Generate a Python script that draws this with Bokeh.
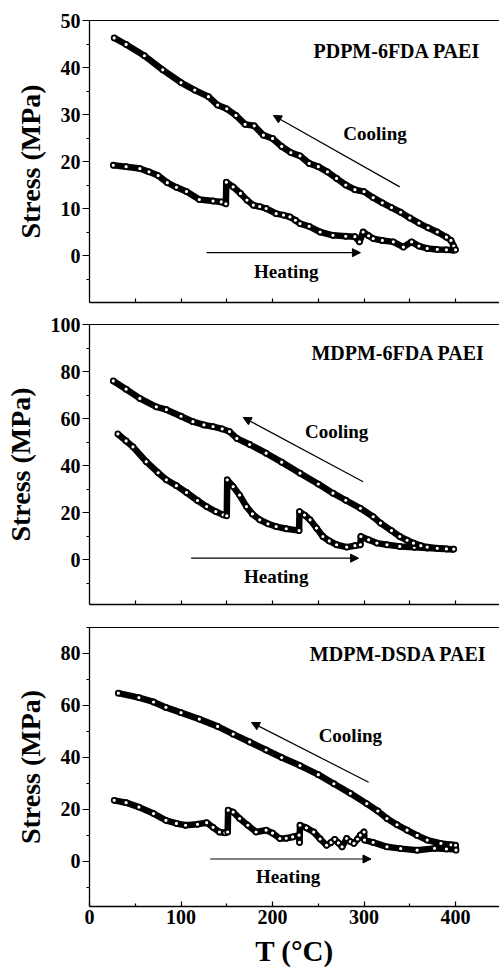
from bokeh.plotting import figure
from bokeh.layouts import column
from bokeh.models import FixedTicker, Range1d, LinearAxis, Label, Arrow, NormalHead
from bokeh.embed import file_html
from bokeh.resources import INLINE

# ---------------- data ----------------
x_ticks = [0, 100, 200, 300, 400]
x_minor = [50, 150, 250, 350]
x_all = [50, 100, 150, 200, 250, 300, 350, 400]

# Panel 1: PDPM-6FDA PAEI
p1_heat_T = [26, 40, 55, 65, 75, 85, 95, 106, 120, 135, 144, 149, 149.5, 157, 165, 172, 179, 186, 193, 204,
             212, 219, 225, 230, 240, 252, 266, 280, 290, 295, 299, 305, 310, 320, 332, 343, 352, 360, 369,
             380, 390, 398]
p1_heat_S = [19.2, 18.9, 18.5, 17.8, 17.0, 15.5, 14.5, 13.6, 11.9, 11.6, 11.4, 11.0, 15.6, 14.6, 13.2, 11.8,
             10.7, 10.4, 10.0, 8.9, 8.6, 8.2, 7.5, 6.8, 6.2, 5.0, 4.3, 4.1, 4.0, 2.9, 5.0, 4.2, 3.6, 3.2, 2.9,
             1.8, 2.9, 2.0, 1.5, 1.3, 1.2, 1.1]
p1_cool_T = [27, 40, 60, 80, 100, 115, 130, 140, 150, 160, 170, 180, 190, 200, 210, 220, 230, 240, 250, 260,
             270, 280, 290, 300, 310, 320, 330, 340, 350, 360, 370, 380, 390, 395, 398, 400]
p1_cool_S = [46.3, 44.9, 42.5, 39.5, 36.8, 35.2, 33.8, 32.0, 31.2, 29.8, 27.9, 27.6, 25.6, 24.9, 23.2, 21.9,
             21.2, 19.6, 18.9, 17.8, 16.4, 15.0, 14.0, 13.6, 12.3, 11.2, 10.2, 9.2, 8.0, 6.9, 5.9, 5.0, 3.9,
             3.2, 2.0, 1.2]

# Panel 2: MDPM-6FDA PAEI
p2_heat_T = [31, 40, 47.5, 62, 75, 84, 95, 106, 118, 128, 138, 146, 150, 150.5, 157, 164, 171.5, 178, 186,
             195, 204, 215, 229, 229.5, 235, 241, 248, 255, 262, 270, 281, 290, 296, 296.5, 305, 314, 325,
             339, 355, 369, 385, 398]
p2_heat_S = [53.5, 50.5, 48.0, 41.7, 37.0, 34.0, 31.5, 28.6, 25.2, 22.6, 20.5, 19.1, 18.7, 34.0, 31.1, 27.5,
             22.6, 19.5, 17.0, 15.3, 14.1, 13.2, 12.4, 20.5, 19.0, 17.0, 13.5, 9.9, 8.0, 6.4, 5.4, 6.0, 6.4,
             9.9, 8.5, 7.1, 6.4, 5.7, 5.3, 5.0, 4.7, 4.5]
p2_cool_T = [26, 40, 55, 73, 84, 100, 113, 125, 135, 145, 153, 161, 175, 193, 210, 230, 250, 266, 280, 296,
             310, 318, 330, 339, 347, 354, 362, 369, 380, 390, 398]
p2_cool_S = [76.0, 72.5, 68.6, 65.0, 63.8, 61.0, 58.7, 57.3, 56.6, 55.6, 54.5, 51.6, 49.0, 45.3, 41.5, 36.8,
             32.2, 28.3, 25.3, 21.9, 18.3, 15.6, 12.4, 9.9, 8.3, 7.1, 6.0, 5.4, 4.9, 4.6, 4.5]

# Panel 3: MDPM-DSDA PAEI
p3_heat_T = [27, 40, 54, 70, 83.5, 95, 105, 118, 128, 135, 142, 148, 151, 151.5, 157, 164, 173, 182, 193,
             200, 208, 215, 222, 229, 229.5, 230, 237, 245, 252, 259, 264, 268, 272, 276, 281, 285, 289, 293,
             296, 300, 300.5, 310, 325, 340, 358, 377, 390, 400]
p3_heat_S = [23.4, 22.5, 20.8, 18.3, 15.7, 14.5, 13.8, 14.2, 14.8, 13.0, 11.2, 10.9, 11.2, 19.6, 18.9, 16.4,
             13.8, 11.2, 11.9, 10.8, 8.7, 8.8, 9.3, 10.0, 7.2, 13.8, 12.8, 11.2, 8.5, 6.1, 7.2, 8.4, 7.0, 5.5,
             8.7, 7.5, 6.8, 8.5, 10.0, 11.2, 8.1, 7.2, 5.5, 4.8, 4.2, 4.9, 4.7, 4.6]
p3_cool_T = [31.5, 54, 70, 83.5, 100, 120, 140, 157, 175, 193, 210, 230, 250, 267, 285, 303, 315, 325, 336,
             347, 358, 369, 384, 395, 400, 400.5]
p3_cool_S = [64.7, 63.0, 61.3, 59.2, 57.2, 54.7, 51.9, 48.9, 45.9, 42.8, 39.9, 36.8, 33.3, 29.8, 26.1, 22.1,
             19.3, 16.4, 14.0, 11.9, 9.9, 8.1, 6.8, 6.3, 6.1, 4.2]

FONT = "Liberation Serif"


def make_panel(title, heat_T, heat_S, cool_T, cool_S, y_rng, y_ticks, y_minor, height, border_top,
               border_bottom, show_x_labels, title_pos, cool_arrow, cool_text, heat_arrow, heat_text):
    p = figure(width=499, height=height, output_backend="svg", toolbar_location=None,
               x_range=Range1d(0, 448), y_range=Range1d(*y_rng),
               min_border_left=89, min_border_right=0, min_border_top=border_top,
               min_border_bottom=border_bottom)
    p.outline_line_color = None
    p.xgrid.visible = False
    p.ygrid.visible = False
    p.background_fill_color = "white"
    p.border_fill_color = "white"

    # curves
    for T, S in ((heat_T, heat_S), (cool_T, cool_S)):
        p.line(T, S, line_color="black", line_width=6.5, line_join="round")
        p.scatter(T, S, marker="circle", size=5, fill_color="white", line_color="black", line_width=1.8)

    # x axis
    xa = p.xaxis[0]
    xa.axis_line_width = 1.3
    xa.major_tick_line_width = 1.2
    xa.minor_tick_line_width = 1.2
    xa.major_tick_out = 0
    xa.minor_tick_out = 0
    if show_x_labels:
        xa.ticker = FixedTicker(ticks=x_ticks, minor_ticks=x_minor)
        xa.major_tick_in = 5
        xa.minor_tick_in = 3
        xa.major_label_text_font = FONT
        xa.major_label_text_font_style = "bold"
        xa.major_label_text_color = "black"
        xa.major_label_text_font_size = "20px"
        xa.major_label_standoff = 3
        xa.axis_label = "T (°C)"
        xa.axis_label_text_font = FONT
        xa.axis_label_text_font_style = "bold"
        xa.axis_label_text_font_size = "29px"
        xa.axis_label_text_color = "black"
        xa.axis_label_standoff = 8
    else:
        xa.ticker = FixedTicker(ticks=[], minor_ticks=x_all)
        xa.minor_tick_in = 4
        xa.major_label_standoff = 0

    # y axis
    ya = p.yaxis[0]
    ya.ticker = FixedTicker(ticks=y_ticks, minor_ticks=y_minor)
    ya.major_tick_in = 0
    ya.major_tick_out = 7
    ya.minor_tick_in = 0
    ya.minor_tick_out = 3
    ya.axis_line_width = 1.3
    ya.major_tick_line_width = 1.2
    ya.minor_tick_line_width = 1.2
    ya.major_label_text_font = FONT
    ya.major_label_text_font_style = "bold"
    ya.major_label_text_font_size = "20px"
    ya.major_label_text_color = "black"
    ya.major_label_standoff = 2
    ya.axis_label = "Stress (MPa)"
    ya.axis_label_text_font = FONT
    ya.axis_label_text_font_style = "bold"
    ya.axis_label_text_font_size = "28px"
    ya.axis_label_text_color = "black"
    ya.axis_label_standoff = 12

    # top border line
    top = LinearAxis(major_tick_line_color=None, minor_tick_line_color=None, major_label_standoff=0,
                     axis_line_color="black", axis_line_width=1.0,
                     ticker=FixedTicker(ticks=[], minor_ticks=[]))
    p.add_layout(top, "above")

    # annotations
    p.add_layout(Label(x=title_pos[0], y=title_pos[1], text=title, text_font=FONT, text_font_style="bold",
                       text_font_size="20px", text_align="right", text_baseline="middle", text_color="black"))
    p.add_layout(Arrow(end=NormalHead(size=8, fill_color="black", line_color="black", line_width=1),
                       x_start=cool_arrow[0], y_start=cool_arrow[1], x_end=cool_arrow[2], y_end=cool_arrow[3],
                       line_color="black", line_width=1.2))
    p.add_layout(Label(x=cool_text[0], y=cool_text[1], text="Cooling", text_font=FONT, text_font_style="bold",
                       text_font_size="19px", text_align="center", text_baseline="middle", text_color="black"))
    p.add_layout(Arrow(end=NormalHead(size=8, fill_color="black", line_color="black", line_width=1),
                       x_start=heat_arrow[0], y_start=heat_arrow[1], x_end=heat_arrow[2], y_end=heat_arrow[3],
                       line_color="black", line_width=1.2))
    p.add_layout(Label(x=heat_text[0], y=heat_text[1], text="Heating", text_font=FONT, text_font_style="bold",
                       text_font_size="19px", text_align="center", text_baseline="middle", text_color="black"))
    return p


p1 = make_panel("PDPM-6FDA PAEI", p1_heat_T, p1_heat_S, p1_cool_T, p1_cool_S,
                (-10, 50), [0, 10, 20, 30, 40, 50], [-5, 5, 15, 25, 35, 45],
                313, 20, 11, False,
                (427, 43.6), (339, 14.6, 201, 29.8), (312, 25.9), (128, 0.6, 296, 0.6), (215, -3.5))
p2 = make_panel("MDPM-6FDA PAEI", p2_heat_T, p2_heat_S, p2_cool_T, p2_cool_S,
                (-19, 100), [0, 20, 40, 60, 80, 100], [-10, 10, 30, 50, 70, 90],
                302, 11, 11, False,
                (432, 87.7), (299, 33.2, 168, 60.5), (270, 54.5), (111, 0.7, 294, 0.7), (204, -7))
p3 = make_panel("MDPM-DSDA PAEI", p3_heat_T, p3_heat_S, p3_cool_T, p3_cool_S,
                (-17.5, 90), [0, 20, 40, 60, 80], [-10, 10, 30, 50, 70, 90],
                354, 12, 60, True,
                (434, 79.9), (305, 30.4, 177, 53.4), (285, 48.3), (132, 0.8, 307.6, 0.8), (217, -6))

layout = column(p1, p2, p3, spacing=0)
open("out.html", "w").write(file_html(layout, INLINE))
